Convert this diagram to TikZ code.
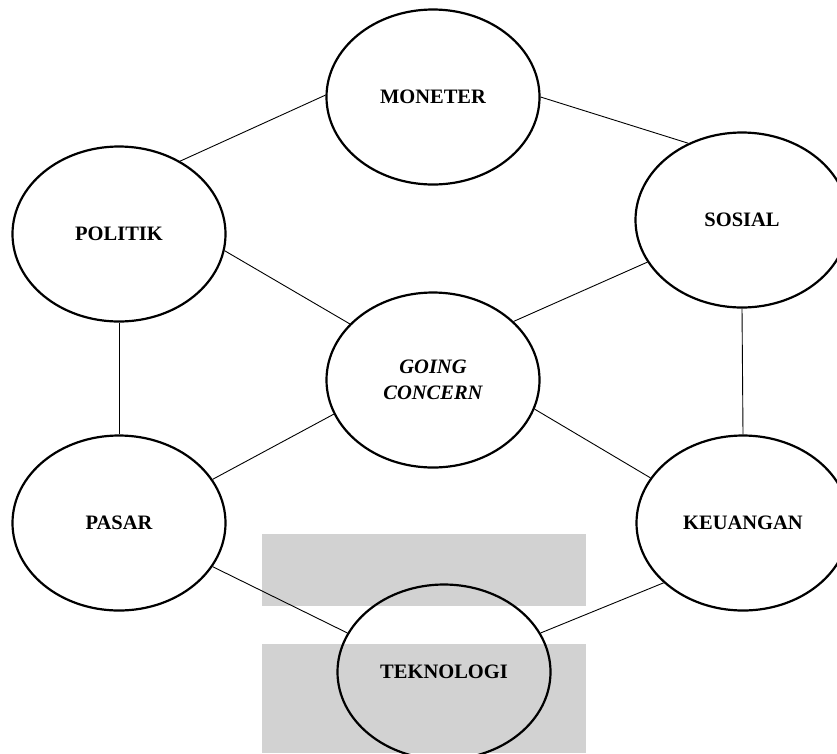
\documentclass[tikz,border=0pt]{standalone}
\usepackage{fontspec}
\setmainfont{Liberation Serif}
\usetikzlibrary{shapes.geometric}
\begin{document}
\begin{tikzpicture}[x=1pt,y=-1pt,
  bub/.style={ellipse, draw, line width=2.2pt, minimum width=213pt, minimum height=175pt,
    inner sep=0pt, align=center, font=\fontsize{20.5}{26}\selectfont\bfseries},
  link/.style={line width=0.9pt},
  wm/.style={fill=gray!35}]
\useasboundingbox (0,0) rectangle (837,753);
% background grey panels
\fill[wm] (262,534) rectangle (586,606);
\fill[wm] (262,644) rectangle (586,753);
% nodes
\node[bub] (mon) at (433,97)  {MONETER};
\node[bub] (pol) at (119,234) {POLITIK};
\node[bub] (sos) at (742,220) {SOSIAL};
\node[bub] (go)  at (433,380) {\itshape GOING\\\itshape CONCERN};
\node[bub] (pas) at (119,523) {PASAR};
\node[bub] (keu) at (743,523) {KEUANGAN};
\node[bub] (tek) at (444,672) {TEKNOLOGI};
% connectors
\draw[link] (mon.179) -- (pol.50);
\draw[link] (mon.0) -- (sos.125);
\draw[link] (pol.-9.5) -- (go.146.5);
\draw[link] (sos.204) -- (go.36);
\draw[link] (pol.south) -- (pas.north);
\draw[link] (sos.south) -- (keu.north);
\draw[link] (go.199) -- (pas.25);
\draw[link] (go.-16.6) -- (keu.154.7);
\draw[link] (pas.-25) -- (tek.158);
\draw[link] (keu.217.8) -- (tek.22);
\end{tikzpicture}
\end{document}
